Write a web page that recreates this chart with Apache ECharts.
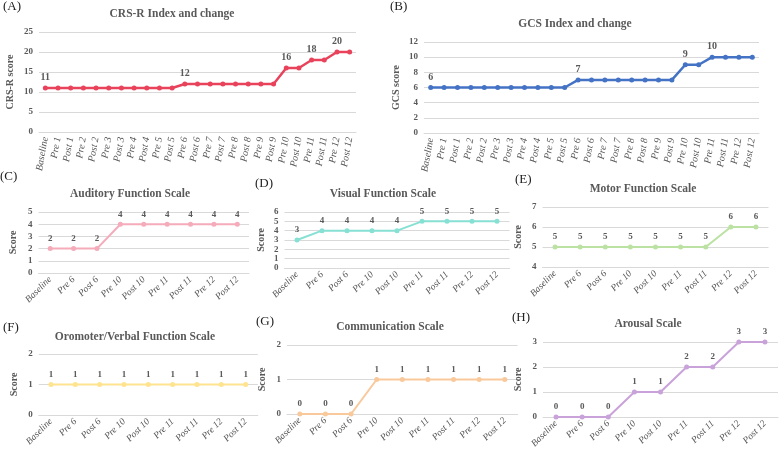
<!DOCTYPE html>
<html>
<head>
<meta charset="utf-8">
<script src="https://cdn.jsdelivr.net/npm/echarts@6/dist/echarts.min.js"></script>
<style>
  html, body { margin: 0; padding: 0; background: #fff; }
  #main { width: 779px; height: 454px; }
</style>
</head>
<body>
<div id="main"></div>
<script>
// categories
const longCats = ['Baseline', 'Pre 1', 'Post 1', 'Pre 2', 'Post 2', 'Pre 3', 'Post 3', 'Pre 4', 'Post 4',
  'Pre 5', 'Post 5', 'Pre 6', 'Post 6', 'Pre 7', 'Post 7', 'Pre 8', 'Post 8', 'Pre 9', 'Post 9',
  'Pre 10', 'Post 10', 'Pre 11', 'Post 11', 'Pre 12', 'Post 12'];
const shortCats = ['Baseline', 'Pre 6', 'Post 6', 'Pre 10', 'Post 10', 'Pre 11', 'Post 11', 'Pre 12', 'Post 12'];

// scores
const crsScores = [11, 11, 11, 11, 11, 11, 11, 11, 11, 11, 11, 12, 12, 12, 12, 12, 12, 12, 12, 16, 16, 18, 18, 20, 20];
const gcsScores = [6, 6, 6, 6, 6, 6, 6, 6, 6, 6, 6, 7, 7, 7, 7, 7, 7, 7, 7, 9, 9, 10, 10, 10, 10];
const auditory = [2, 2, 2, 4, 4, 4, 4, 4, 4];
const visual = [3, 4, 4, 4, 4, 5, 5, 5, 5];
const motor = [5, 5, 5, 5, 5, 5, 5, 6, 6];
const oromotor = [1, 1, 1, 1, 1, 1, 1, 1, 1];
const communication = [0, 0, 0, 1, 1, 1, 1, 1, 1];
const arousal = [0, 0, 0, 1, 1, 2, 2, 3, 3];

// which points carry a value label in the long panels
const crsLabelIdx = [0, 11, 19, 21, 23];
const gcsLabelIdx = [0, 11, 19, 21];

const SERIF = '"Liberation Serif", "DejaVu Serif", serif';
const GREY = '#595959';

// panel layout: grid box, y range, title, colours
const panels = [
  { letter: '(A)', lx: 3, ly: 0, title: 'CRS-R Index and change', tx: 172, ty: 8, tsize: 11.5,
    grid: { left: 39, top: 32, width: 317, height: 100 }, min: 0, max: 25, interval: 5,
    cats: longCats, data: crsScores, labelIdx: crsLabelIdx, color: '#E9435C', name: 'CRS-R score', gap: 24,
    rotate: 80, lw: 2.5, sym: 5, fs: 10 },
  { letter: '(B)', lx: 390, ly: 0, title: 'GCS Index and change', tx: 575, ty: 18, tsize: 11.5,
    grid: { left: 424, top: 42, width: 335, height: 91 }, min: 0, max: 12, interval: 2,
    cats: longCats, data: gcsScores, labelIdx: gcsLabelIdx, color: '#4472C4', name: 'GCS score', gap: 23,
    rotate: 80, lw: 2.5, sym: 5, fs: 10 },
  { letter: '(C)', lx: 0, ly: 170, title: 'Auditory Function Scale', tx: 130, ty: 188, tsize: 11.5,
    grid: { left: 38.5, top: 212, width: 210.5, height: 61 }, min: 0, max: 5, interval: 1,
    cats: shortCats, data: auditory, color: '#F5ABBA', name: 'Score', gap: 20,
    rotate: 45, lw: 2, sym: 5, fs: 9 },
  { letter: '(D)', lx: 255, ly: 177, title: 'Visual Function Scale', tx: 383, ty: 188, tsize: 11.5,
    grid: { left: 284.5, top: 212, width: 225, height: 56 }, min: 0, max: 6, interval: 1,
    cats: shortCats, data: visual, color: '#86E0D4', name: 'Score', gap: 18.5,
    rotate: 45, lw: 2, sym: 5, fs: 9 },
  { letter: '(E)', lx: 515, ly: 173, title: 'Motor Function Scale', tx: 643, ty: 183, tsize: 11.5,
    grid: { left: 542.5, top: 207, width: 226, height: 60 }, min: 4, max: 7, interval: 1,
    cats: shortCats, data: motor, color: '#BBE2A2', name: 'Score', gap: 19.5,
    rotate: 45, lw: 2, sym: 5, fs: 9 },
  { letter: '(F)', lx: 3, ly: 321, title: 'Oromoter/Verbal Function Scale', tx: 135, ty: 331, tsize: 11.5,
    grid: { left: 38.8, top: 354, width: 219, height: 61 }, min: 0, max: 2, interval: 1,
    cats: shortCats, data: oromotor, color: '#FFE38F', name: 'Score', gap: 19,
    rotate: 45, lw: 2, sym: 5, fs: 9 },
  { letter: '(G)', lx: 256, ly: 315, title: 'Communication Scale', tx: 390, ty: 321, tsize: 11.5,
    grid: { left: 287, top: 345, width: 230.6, height: 69 }, min: 0, max: 2, interval: 1,
    cats: shortCats, data: communication, color: '#F9C99C', name: 'Score', gap: 20,
    rotate: 45, lw: 2, sym: 5, fs: 9 },
  { letter: '(H)', lx: 512, ly: 311, title: 'Arousal Scale', tx: 648, ty: 318, tsize: 11.5,
    grid: { left: 543, top: 342, width: 235, height: 75 }, min: 0, max: 3, interval: 1,
    cats: shortCats, data: arousal, color: '#C9A2DA', name: 'Score', gap: 20,
    rotate: 45, lw: 2, sym: 5, fs: 9 }
];

const chart = echarts.init(document.getElementById('main'), null, { renderer: 'canvas' });

const titles = [];
const grids = [];
const xAxes = [];
const yAxes = [];
const series = [];

panels.forEach((p, i) => {
  // panel letter
  titles.push({
    text: p.letter, left: p.lx, top: p.ly, padding: 0,
    textStyle: { fontFamily: SERIF, fontSize: 13, fontWeight: 'normal', color: '#222' }
  });
  // panel title
  titles.push({
    text: p.title, left: p.tx, top: p.ty, textAlign: 'center', padding: 0,
    textStyle: { fontFamily: SERIF, fontSize: p.tsize, fontWeight: 'bold', color: GREY }
  });

  grids.push(p.grid);

  xAxes.push({
    type: 'category', gridIndex: i, data: p.cats, boundaryGap: true,
    axisLine: { show: true, lineStyle: { color: '#d9d9d9' } },
    axisTick: { show: false },
    axisLabel: {
      interval: 0, rotate: p.rotate, margin: 5,
      fontFamily: SERIF, fontStyle: 'italic', fontSize: p.rotate > 60 ? 10 : 9.5, color: GREY
    }
  });

  yAxes.push({
    type: 'value', gridIndex: i, min: p.min, max: p.max, interval: p.interval,
    name: p.name, nameLocation: 'middle', nameGap: p.gap,
    nameTextStyle: { fontFamily: SERIF, fontSize: 10, fontWeight: 'bold', color: GREY },
    axisLine: { show: false }, axisTick: { show: false },
    axisLabel: { fontFamily: SERIF, fontSize: 9, fontWeight: 'bold', color: GREY, margin: 6 },
    splitLine: { lineStyle: { color: '#d9d9d9', width: 1 } }
  });

  const pts = p.data.map((v, k) => {
    const showLabel = p.labelIdx ? p.labelIdx.includes(k) : true;
    return { value: v, label: { show: showLabel } };
  });

  series.push({
    type: 'line', xAxisIndex: i, yAxisIndex: i, data: pts,
    symbol: 'circle', symbolSize: p.sym, showSymbol: true,
    lineStyle: { color: p.color, width: p.lw },
    itemStyle: { color: p.color },
    label: {
      position: 'top', distance: 3,
      fontFamily: SERIF, fontSize: p.fs, fontWeight: 'bold', color: GREY
    },
    animation: false
  });
});

chart.setOption({
  backgroundColor: '#fff',
  animation: false,
  title: titles,
  grid: grids,
  xAxis: xAxes,
  yAxis: yAxes,
  series: series
});
</script>
</body>
</html>
